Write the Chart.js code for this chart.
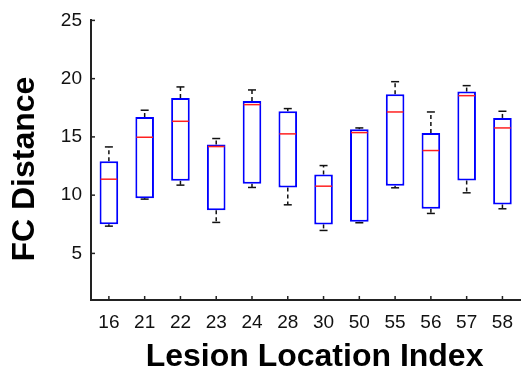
<!DOCTYPE html>
<html>
<head>
<meta charset="utf-8">
<script src="https://cdn.jsdelivr.net/npm/chart.js@4"></script>
<style>
  html, body { margin: 0; padding: 0; background: #fff; }
  #wrap { width: 524px; height: 375px; }
</style>
</head>
<body>
<div id="wrap"><canvas id="box"></canvas></div>
<script>
// lesion locations and box statistics
let labels  = ['16', '21', '22', '23', '24', '28', '30', '50', '55', '56', '57', '58'];
let wLow    = [7.34, 9.66, 10.86, 7.66, 10.66, 9.17, 6.97, 7.63, 10.63, 8.43, 10.2, 8.83];
let q1      = [7.51, 9.74, 11.23, 8.71, 10.97, 10.66, 7.49, 7.71, 10.8, 8.83, 11.26, 9.2];
let medians = [11.37, 14.97, 16.34, 14.17, 17.77, 15.26, 10.77, 15.37, 17.14, 13.83, 18.54, 15.77];
let q3      = [12.91, 16.71, 18.34, 14.34, 18.09, 17.2, 11.77, 15.66, 18.66, 15.34, 18.89, 16.63];
let wHigh   = [14.14, 17.29, 19.29, 14.86, 19.03, 17.43, 12.54, 15.77, 19.74, 17.14, 19.4, 17.2];
let yTicks  = [5, 10, 15, 20, 25];

const FONT = 'Liberation Sans, Arial, Helvetica, sans-serif';

// whiskers (dashed, black) + caps, medians (red), inward tick marks
const boxExtras = {
    id: 'boxExtras',
    beforeDatasetsDraw(chart) {
        const ctx = chart.ctx;
        const y = chart.scales.y;
        const bars = chart.getDatasetMeta(0).data;
        ctx.save();
        ctx.strokeStyle = '#111';
        ctx.lineWidth = 1.5;
        bars.forEach((bar, i) => {
            const x = bar.x;
            const ends = [[q3[i], wHigh[i]], [q1[i], wLow[i]]];
            ends.forEach(([from, to]) => {
                ctx.setLineDash([4, 3]);
                ctx.beginPath();
                ctx.moveTo(x, y.getPixelForValue(from));
                ctx.lineTo(x, y.getPixelForValue(to));
                ctx.stroke();
                ctx.setLineDash([]);
                ctx.beginPath();
                ctx.moveTo(x - 4, y.getPixelForValue(to));
                ctx.lineTo(x + 4, y.getPixelForValue(to));
                ctx.stroke();
            });
        });
        ctx.restore();
    },
    afterDatasetsDraw(chart) {
        const ctx = chart.ctx;
        const y = chart.scales.y;
        const bars = chart.getDatasetMeta(0).data;
        ctx.save();
        ctx.strokeStyle = '#ff2020';
        ctx.lineWidth = 1.5;
        bars.forEach((bar, i) => {
            const py = y.getPixelForValue(medians[i]);
            ctx.beginPath();
            ctx.moveTo(bar.x - bar.width / 2 + 1, py);
            ctx.lineTo(bar.x + bar.width / 2 - 1, py);
            ctx.stroke();
        });
        ctx.restore();
    },
    afterDraw(chart) {
        const ctx = chart.ctx;
        const {left, bottom} = chart.chartArea;
        const x = chart.scales.x, y = chart.scales.y;
        ctx.save();
        ctx.strokeStyle = '#222';
        ctx.lineWidth = 1.5;
        yTicks.forEach(v => {
            const py = y.getPixelForValue(v);
            ctx.beginPath();
            ctx.moveTo(left, py);
            ctx.lineTo(left + 4, py);
            ctx.stroke();
        });
        labels.forEach((l, i) => {
            const px = x.getPixelForValue(i);
            ctx.beginPath();
            ctx.moveTo(px, bottom);
            ctx.lineTo(px, bottom - 4);
            ctx.stroke();
        });
        ctx.restore();
    }
};

new Chart(document.getElementById('box'), {
    type: 'bar',
    data: {
        labels: labels,
        datasets: [{
            data: labels.map((l, i) => [q1[i], q3[i]]),
            backgroundColor: '#ffffff',
            borderColor: '#0000ff',
            borderWidth: 2,
            borderSkipped: false,
            barPercentage: 0.52,
            categoryPercentage: 1
        }]
    },
    options: {
        responsive: true,
        maintainAspectRatio: false,
        animation: false,
        layout: { padding: { top: 20, right: 0, left: 0, bottom: 0 } },
        plugins: { legend: { display: false }, tooltip: { enabled: false } },
        scales: {
            x: {
                grid: { display: false, drawTicks: false, tickLength: 0 },
                border: { display: true, color: '#222', width: 2 },
                ticks: { color: '#111', padding: 11, font: { family: FONT, size: 19 } },
                title: {
                    display: true,
                    text: '\u00a0\u00a0Lesion Location Index',
                    color: '#000',
                    font: { family: FONT, size: 32, weight: 'bold', lineHeight: 1 },
                    padding: { top: 0, bottom: 2 }
                },
                afterFit(scale) { scale.height = 75; }
            },
            y: {
                min: 1,
                max: 25,
                grid: { display: false, drawTicks: false, tickLength: 0 },
                border: { display: true, color: '#222', width: 2 },
                ticks: {
                    stepSize: 5,
                    includeBounds: false,
                    color: '#111',
                    padding: 9,
                    font: { family: FONT, size: 19 },
                    callback: v => yTicks.includes(v) ? v : ''
                },
                title: {
                    display: true,
                    text: 'FC Distance\u00a0\u00a0',
                    color: '#000',
                    font: { family: FONT, size: 32, weight: 'bold' },
                    padding: { top: 6, bottom: 0 }
                },
                afterFit(scale) { scale.width = 91; }
            }
        }
    },
    plugins: [boxExtras]
});
</script>
</body>
</html>
